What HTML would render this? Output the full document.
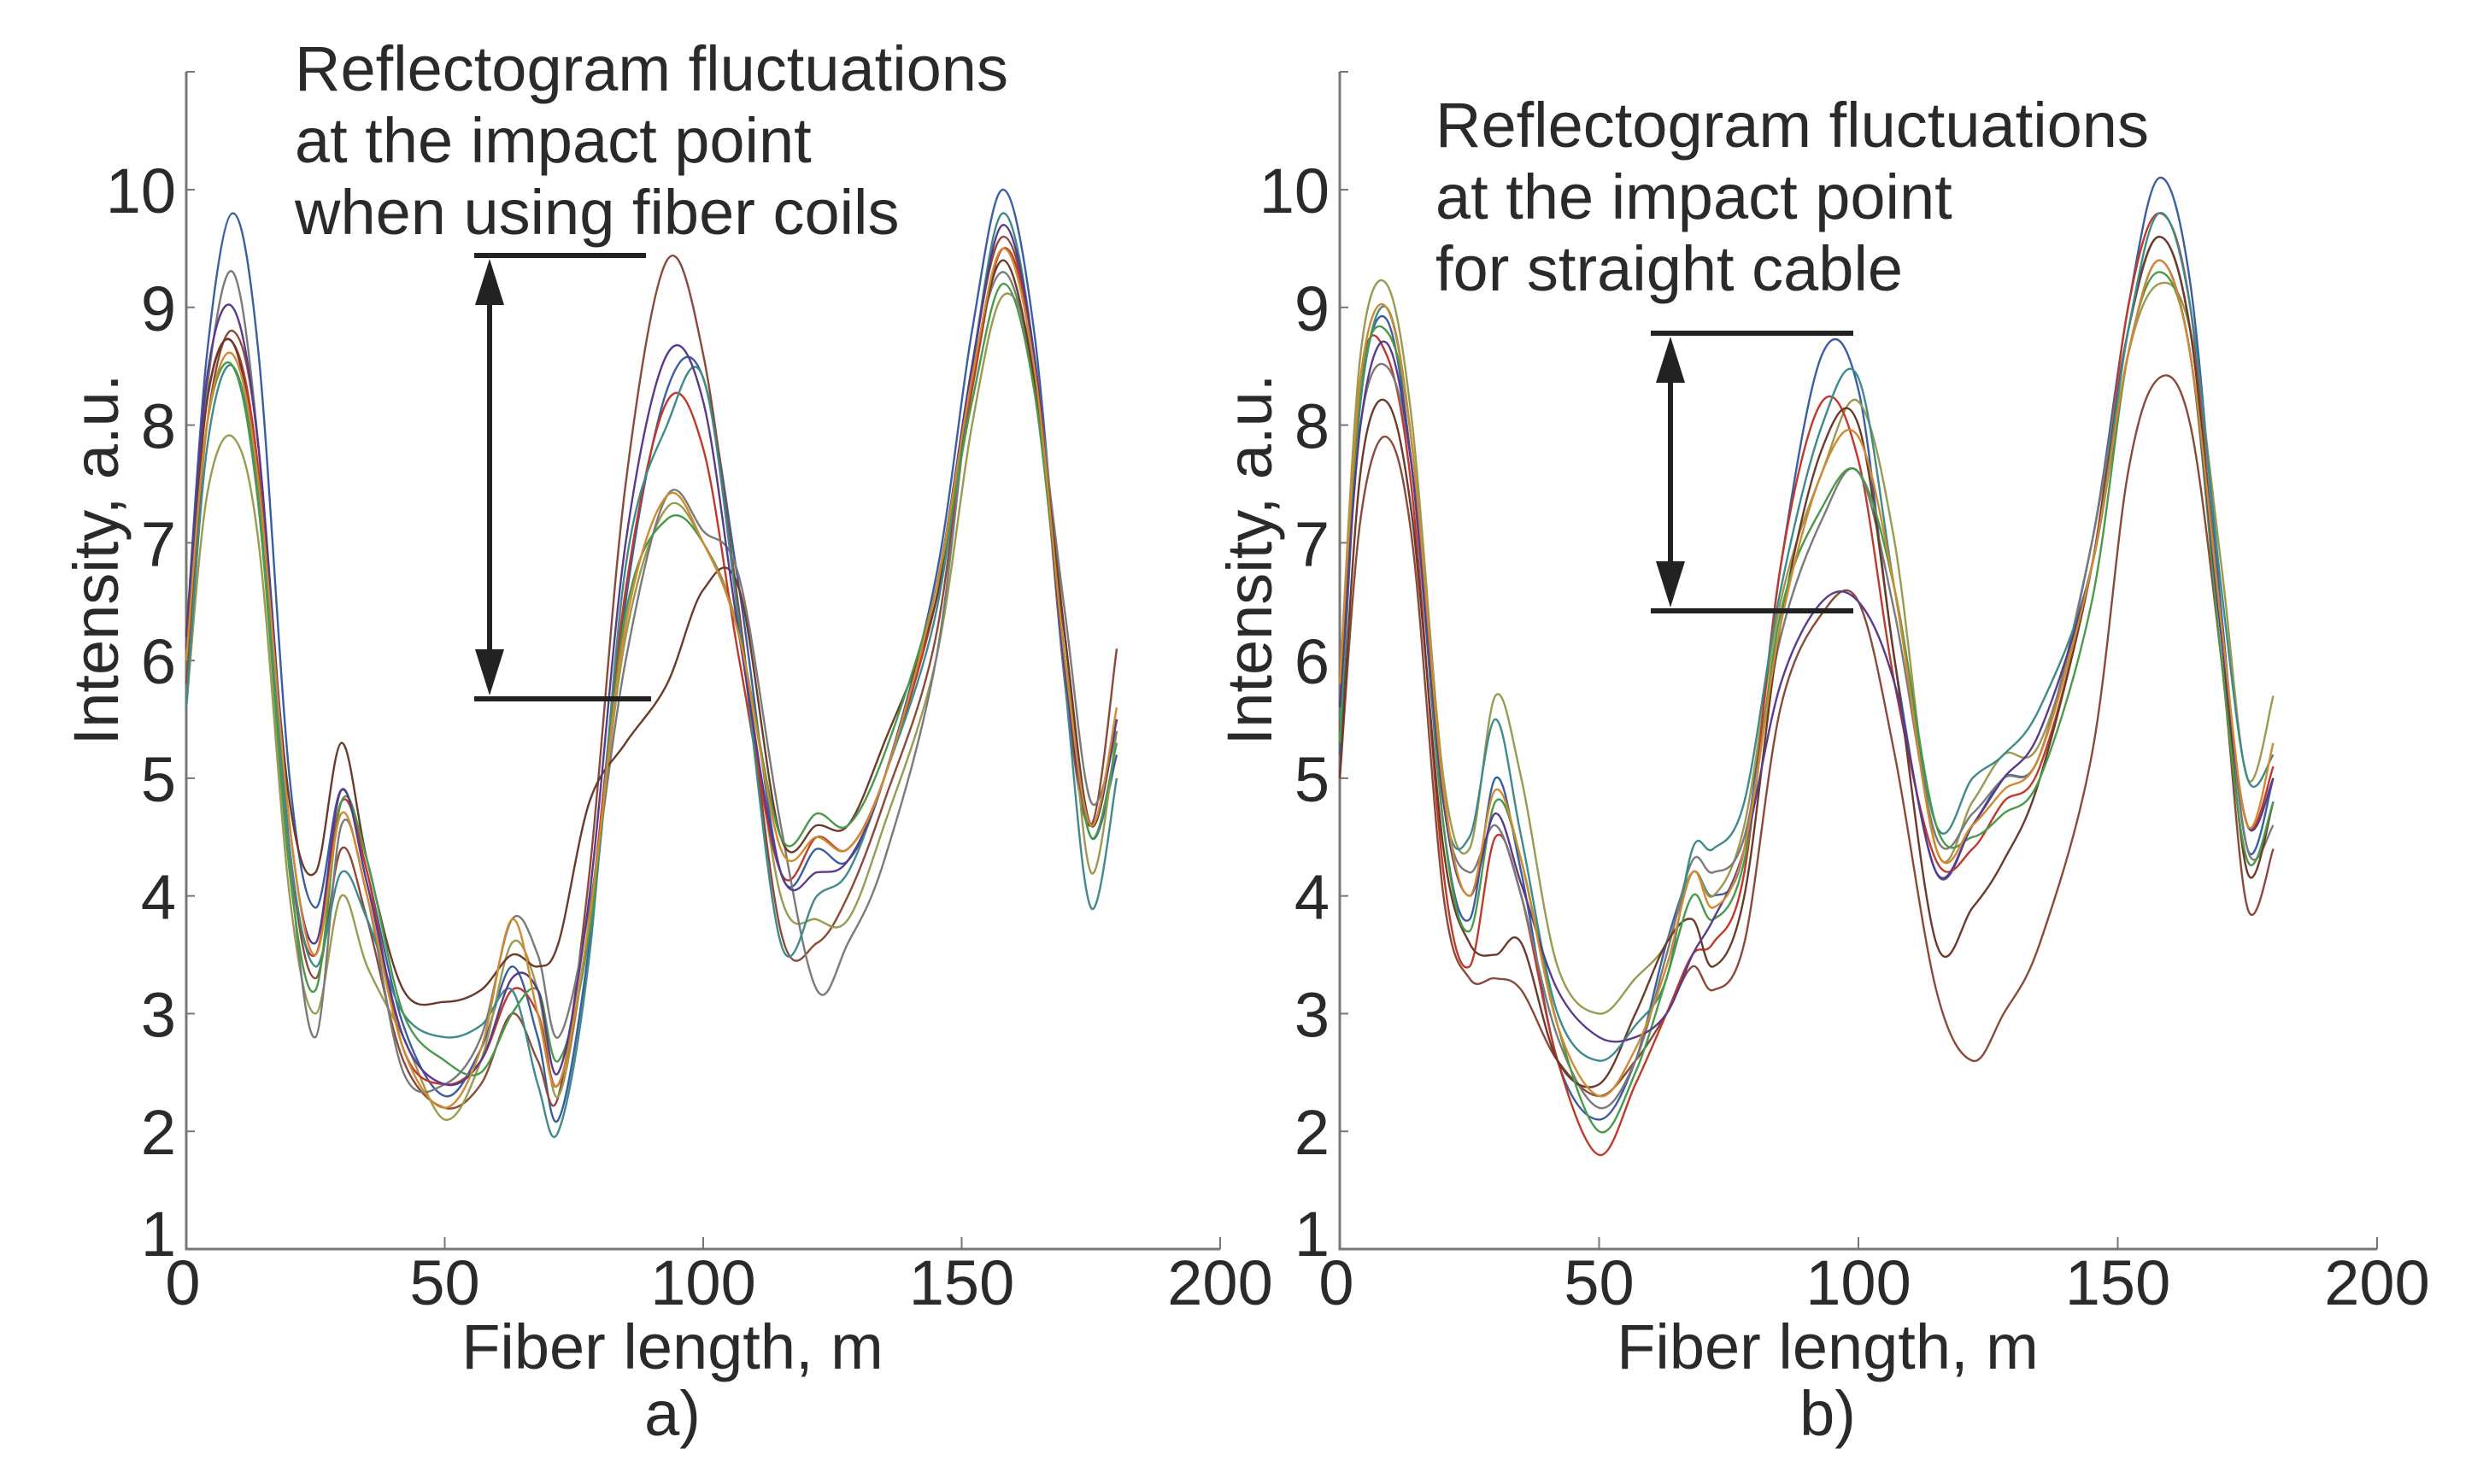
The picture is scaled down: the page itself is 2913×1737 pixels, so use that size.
<!DOCTYPE html>
<html><head><meta charset="utf-8"><style>
html,body{margin:0;padding:0;background:#fff}
svg{display:block}
text{font-family:"Liberation Sans",Arial,sans-serif;fill:#2a2a2a}
</style></head><body>
<svg id="chart" width="2913" height="1737" viewBox="0 0 2913 1737" xmlns="http://www.w3.org/2000/svg"></svg>
<script>
const knotsX=[0,4,9,14,20,25,30,35,42,50,57,63,68,72,78,85,93,100,107,115,122,128,135,145,152,158,164,170,175,180];
const xTicks=[0,50,100,150,200];
const yTicks=[1,2,3,4,5,6,7,8,9,10];
const colors=["#3a5fa0","#8a4a3a","#9a9a50","#c0392b","#7a7a7a","#6b3a2a","#3f8a8a","#4a9a4a","#5a3a8a","#d08a30"];
const seriesA=[
[6.2,8.6,9.8,8.6,5.0,3.9,4.9,4.2,2.9,2.3,2.7,3.4,2.8,2.1,3.6,6.5,8.3,8.4,6.6,4.2,4.4,4.3,5.0,6.7,8.8,10.0,8.8,6.0,4.5,5.2],
[5.8,8.0,8.8,7.8,4.4,3.3,4.4,3.8,2.6,2.2,2.4,3.0,2.6,2.3,4.2,7.5,9.4,8.6,6.4,3.7,3.6,4.0,4.8,6.2,8.5,9.6,8.6,5.8,4.6,6.1],
[5.6,7.4,7.9,7.0,4.0,3.0,4.0,3.4,2.8,2.1,2.6,3.6,3.2,2.3,3.8,6.2,7.3,7.0,6.2,4.0,3.8,3.8,4.6,6.0,8.0,9.1,8.5,6.2,4.2,5.4],
[6.0,8.2,8.7,7.6,4.4,3.5,4.8,4.2,2.7,2.4,2.6,3.2,3.0,2.4,3.8,6.6,8.2,7.8,6.0,4.2,4.5,4.4,5.0,6.5,8.3,9.5,8.6,6.0,4.6,5.5],
[6.0,8.3,9.3,7.8,4.3,2.8,4.6,4.0,2.5,2.4,2.8,3.8,3.5,2.8,3.9,6.0,7.4,7.1,6.7,4.6,3.2,3.6,4.3,6.0,8.4,9.3,8.4,6.4,4.8,5.4],
[6.2,8.2,8.7,7.5,4.8,4.2,5.3,4.3,3.2,3.1,3.2,3.5,3.4,3.6,4.8,5.3,5.8,6.6,6.6,4.5,4.6,4.6,5.3,6.5,8.4,9.4,8.4,6.2,4.6,5.5],
[5.6,7.8,8.5,7.4,4.4,3.4,4.2,3.8,3.0,2.8,2.9,3.2,2.4,2.0,3.5,6.8,8.0,8.4,6.3,3.6,4.0,4.2,5.0,6.4,8.5,9.8,8.6,5.8,3.9,5.0],
[6.0,8.0,8.5,7.3,4.2,3.2,4.8,4.3,3.0,2.6,2.5,3.0,3.2,2.6,3.7,6.4,7.2,7.0,6.2,4.5,4.7,4.6,5.2,6.6,8.2,9.2,8.3,6.0,4.5,5.3],
[6.1,8.4,9.0,7.8,4.6,3.6,4.9,4.1,2.8,2.4,2.6,3.3,3.2,2.5,4.0,7.0,8.6,8.2,6.2,4.2,4.2,4.3,5.0,6.6,8.5,9.7,8.6,5.9,4.6,5.5],
[6.0,8.0,8.6,7.5,4.6,3.5,4.7,4.0,2.7,2.2,2.7,3.8,3.0,2.4,3.8,6.3,7.4,7.0,6.2,4.4,4.5,4.4,5.0,6.6,8.4,9.5,8.5,6.0,4.6,5.6]];
const seriesB=[
[5.2,8.2,8.9,7.6,4.6,3.8,5.0,4.2,2.6,2.1,2.6,3.6,4.2,4.0,4.4,6.8,8.6,8.3,6.0,4.2,4.6,5.0,5.2,7.0,9.0,10.1,9.2,6.4,4.4,5.0],
[5.0,7.2,7.9,7.0,4.0,3.3,3.3,3.2,2.6,2.3,2.6,3.0,3.4,3.2,3.6,5.6,6.4,6.5,5.2,3.2,2.6,3.0,3.6,5.2,7.6,8.4,8.0,6.0,3.9,4.4],
[5.8,8.6,9.2,8.0,5.0,4.4,5.7,5.0,3.4,3.0,3.3,3.6,4.2,4.0,4.6,6.5,7.6,8.2,7.0,4.4,4.8,5.2,5.3,6.8,8.6,9.2,8.8,6.8,5.0,5.7],
[5.4,8.4,8.6,7.4,4.2,3.4,4.5,4.0,2.6,1.8,2.4,3.0,3.5,3.6,4.2,6.8,8.2,7.7,5.8,4.3,4.4,4.8,5.1,6.8,9.0,9.8,9.0,6.2,4.6,5.1],
[5.6,8.0,8.5,7.6,4.8,4.2,4.6,4.0,2.8,2.2,2.6,3.5,4.3,4.2,4.5,6.2,7.2,7.6,6.4,4.5,4.7,5.0,5.2,7.0,8.8,9.6,8.8,6.3,4.4,4.6],
[5.0,7.6,8.2,7.2,4.4,3.6,3.5,3.6,2.6,2.4,3.0,3.6,3.8,3.4,4.0,6.3,7.8,8.0,6.0,3.6,3.9,4.3,5.0,6.8,8.8,9.6,8.8,6.2,4.2,4.8],
[5.5,8.2,9.0,7.8,4.8,4.5,5.5,4.5,3.0,2.6,2.9,3.3,4.4,4.4,4.8,6.6,8.0,8.4,6.6,4.6,5.0,5.2,5.6,6.8,8.8,9.8,9.0,6.6,5.0,5.2],
[5.3,8.3,8.8,7.8,4.6,3.7,4.8,4.3,2.9,2.0,2.5,3.3,4.0,3.8,4.3,6.4,7.3,7.6,6.6,4.6,4.5,4.7,5.0,6.5,8.6,9.3,8.6,6.0,4.3,4.8],
[5.6,8.0,8.7,7.6,4.8,4.0,4.7,4.1,3.2,2.8,2.8,3.0,3.5,3.8,4.4,5.8,6.5,6.5,5.8,4.2,4.6,5.0,5.4,6.8,8.6,9.4,8.6,6.2,4.6,5.0],
[5.8,8.4,9.0,7.8,4.9,4.0,4.9,4.3,2.9,2.3,2.7,3.4,4.2,3.9,4.4,6.3,7.6,7.9,6.6,4.4,4.6,4.9,5.2,6.8,8.6,9.4,8.6,6.3,4.6,5.3]];

const NS="http://www.w3.org/2000/svg";
const svg=document.getElementById('chart');
function mk(tag,attrs,parent){const e=document.createElementNS(NS,tag);for(const k in attrs)e.setAttribute(k,attrs[k]);(parent||svg).appendChild(e);return e;}

function panel(key,x0,x200,series,note,arrowX,arrowTop,arrowBot,barL,barR1,barR2,label){
  const yBot=1462,yTop=84,unit=(1462-222)/9;
  const sx=v=>x0+(x200-x0)*v/200;
  const sy=v=>yBot-(v-1)*unit;
  const g=mk('g',{});
  
  
  const ax=mk('path',{d:`M${x0} ${yTop}L${x0} ${yBot}L${x200} ${yBot}`,fill:'none',stroke:'#777','stroke-width':3},g);
  
  
  xTicks.forEach(t=>{
    mk('line',{x1:sx(t),x2:sx(t),y1:yBot,y2:yBot-14,stroke:'#777','stroke-width':2},g);
    const tx=mk('text',{x:sx(t)+(t===0?-4:0),y:1527,'font-size':74,'text-anchor':'middle'},g);
    tx.textContent=t;
    
    
  });
  yTicks.forEach(t=>{
    mk('line',{x1:x0,x2:x0+10,y1:sy(t),y2:sy(t),stroke:'#777','stroke-width':2},g);
    const ty=mk('text',{x:x0-12,y:sy(t)+(t===1?8:27),'font-size':74,'text-anchor':'end'},g);
    ty.textContent=t;
    
    
  });
  mk('line',{x1:x0,x2:x0+10,y1:yTop,y2:yTop,stroke:'#777','stroke-width':2},g);
  series.forEach((s,i)=>{
    const pts=knotsX.map((x,j)=>[sx(x),sy(s[j])]);
    let d=`M${pts[0][0]} ${pts[0][1]}`;
    for(let j=0;j<pts.length-1;j++){
      const p0=pts[Math.max(0,j-1)],p1=pts[j],p2=pts[j+1],p3=pts[Math.min(pts.length-1,j+2)];
      d+=`C${p1[0]+(p2[0]-p0[0])/6} ${p1[1]+(p2[1]-p0[1])/6} ${p2[0]-(p3[0]-p1[0])/6} ${p2[1]-(p3[1]-p1[1])/6} ${p2[0]} ${p2[1]}`;
    }
    const c=mk('path',{d:d,fill:'none',stroke:colors[i%colors.length],'stroke-width':2.4},g);
    
    
  });
  const cx=(x0+x200)/2-36;
  const xt=mk('text',{x:cx,y:1602,'font-size':74,'text-anchor':'middle'},g);
  xt.textContent='Fiber length, m';
  
  
  const sl=mk('text',{x:cx,y:1680,'font-size':74,'text-anchor':'middle'},g);
  sl.textContent=label;
  
  
  const yt=mk('text',{x:0,y:0,'font-size':74,'text-anchor':'middle',transform:`translate(${x0-80},655) rotate(-90)`},g);
  yt.textContent='Intensity, a.u.';
  
  
  note.lines.forEach((ln,k)=>{
    const t=mk('text',{x:note.x,y:note.y+k*84,'font-size':74},g);
    t.textContent=ln;
    
    
  });
  mk('line',{x1:barL,x2:barR1,y1:arrowTop,y2:arrowTop,stroke:'#222','stroke-width':6},g);
  mk('line',{x1:barL,x2:barR2,y1:arrowBot,y2:arrowBot,stroke:'#222','stroke-width':6},g);
  const ar=mk('line',{x1:arrowX,x2:arrowX,y1:arrowTop+40,y2:arrowBot-40,stroke:'#222','stroke-width':6},g);
  
  
  mk('polygon',{points:`${arrowX},${arrowTop+4} ${arrowX-17},${arrowTop+58} ${arrowX+17},${arrowTop+58}`,fill:'#222'},g);
  mk('polygon',{points:`${arrowX},${arrowBot-4} ${arrowX-17},${arrowBot-58} ${arrowX+17},${arrowBot-58}`,fill:'#222'},g);
}
panel('a',218,1428,seriesA,{x:345,y:106,lines:['Reflectogram fluctuations','at the impact point','when using fiber coils']},573,299,818,555,756,762,'a)');
panel('b',1568,2782,seriesB,{x:1680,y:172,lines:['Reflectogram fluctuations','at the impact point','for straight cable']},1955,390,715,1932,2169,2169,'b)');
</script>
</body></html>
